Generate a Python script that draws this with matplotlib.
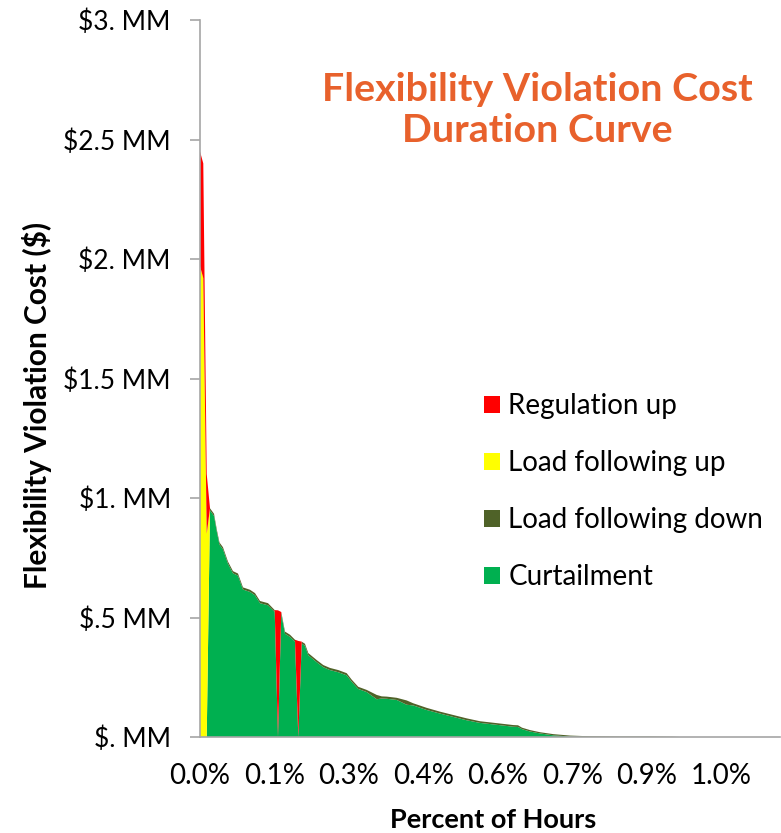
import matplotlib
matplotlib.use("Agg")
import matplotlib.pyplot as plt
from matplotlib.patches import Patch

plt.rcParams['font.family'] = ['Lato', 'DejaVu Sans']

# Percent of hours (x) and costs in $MM for each stacked series
pct = [0.0, 0.0063, 0.0129, 0.0192, 0.0269, 0.0326, 0.0374, 0.0441, 0.0537, 0.0633,
       0.0729, 0.0825, 0.0960, 0.1056, 0.1152, 0.1305, 0.1434, 0.1497, 0.1560, 0.1631,
       0.1727, 0.1823, 0.1887, 0.1952, 0.2015, 0.2079, 0.2240, 0.2367, 0.2495, 0.2655,
       0.2816, 0.2912, 0.3038, 0.3200, 0.3392, 0.3488, 0.3584, 0.3776, 0.3967, 0.4094,
       0.4351, 0.4607, 0.4862, 0.5119, 0.5374, 0.5695, 0.6013, 0.6104, 0.6180, 0.6334,
       0.6526, 0.6781, 0.7102, 0.7486, 0.8061, 0.8637, 0.9060, 0.9213, 1.1132]

curtailment = [0.0, 0.0, 0.0, 0.948, 0.925, 0.855, 0.805, 0.785, 0.725, 0.685,
               0.675, 0.617, 0.607, 0.593, 0.560, 0.551, 0.523, 0.0, 0.515, 0.432,
               0.419, 0.399, 0.0, 0.391, 0.381, 0.342, 0.313, 0.292, 0.280, 0.271,
               0.258, 0.231, 0.201, 0.188, 0.158, 0.161, 0.160, 0.155, 0.135, 0.132,
               0.113, 0.098, 0.084, 0.070, 0.059, 0.051, 0.043, 0.042, 0.033, 0.023,
               0.015, 0.007, 0.002, 0.0, 0.0, 0.0, 0.0, 0.0, 0.0]

load_following_down = [0.0, 0.0, 0.0, 0.009, 0.009, 0.009, 0.009, 0.009, 0.009, 0.009,
                       0.009, 0.009, 0.009, 0.009, 0.009, 0.009, 0.008, 0.0, 0.008, 0.009,
                       0.009, 0.008, 0.0, 0.008, 0.009, 0.009, 0.009, 0.009, 0.009, 0.009,
                       0.009, 0.009, 0.009, 0.009, 0.018, 0.009, 0.009, 0.009, 0.018, 0.009,
                       0.009, 0.008, 0.008, 0.008, 0.007, 0.007, 0.007, 0.007, 0.006, 0.006,
                       0.005, 0.005, 0.004, 0.003, 0.002, 0.002, 0.001, 0.0, 0.0]

load_following_up = [1.97, 1.92, 0.85] + [0.0] * 56

regulation_up = [0.48, 0.48, 0.25, 0.0, 0.0, 0.0, 0.0, 0.0, 0.0, 0.0,
                 0.0, 0.0, 0.0, 0.0, 0.0, 0.0, 0.0, 0.530, 0.0, 0.0,
                 0.0, 0.0, 0.402, 0.0, 0.0, 0.0, 0.0, 0.0, 0.0, 0.0,
                 0.0, 0.0, 0.0, 0.0, 0.0, 0.0, 0.0, 0.0, 0.0, 0.0,
                 0.0, 0.0, 0.0, 0.0, 0.0, 0.0, 0.0, 0.0, 0.0, 0.0,
                 0.0, 0.0, 0.0, 0.0, 0.0, 0.0, 0.0, 0.0, 0.0]

x_ticks = [0.0, 1/7, 2/7, 3/7, 4/7, 5/7, 6/7, 1.0]
y_ticks = [0.0, 0.5, 1.0, 1.5, 2.0, 2.5, 3.0]
y_tick_labels = ["$. MM", "$.5 MM", "$1. MM", "$1.5 MM", "$2. MM", "$2.5 MM", "$3. MM"]

series_names = ["Curtailment", "Load following down", "Load following up", "Regulation up"]
colors = ["#00B050", "#4F6228", "#FFFF00", "#FF0000"]

W, H = 781, 833
fig = plt.figure(figsize=(W / 100, H / 100), dpi=100)
ax = fig.add_axes([200 / W, 1 - 737 / H, 580 / W, 717 / H])

ax.stackplot(pct, curtailment, load_following_down, load_following_up, regulation_up,
             colors=colors, linewidth=0, antialiased=True)

ax.set_xlim(0, 1.1132)
ax.set_ylim(0, 3.0)

for s in ["top", "right"]:
    ax.spines[s].set_visible(False)
for s in ["left", "bottom"]:
    ax.spines[s].set_color("#A6A6A6")
    ax.spines[s].set_linewidth(1.2)

ax.set_yticks(y_ticks)
ax.set_yticklabels(y_tick_labels)
ax.tick_params(axis='y', length=7, width=1.2, color="#A6A6A6", pad=14,
               labelsize=19, labelcolor="#000000")
ax.set_xticks(x_ticks)
ax.set_xticklabels([f"{v:.1f}%" for v in x_ticks])
ax.tick_params(axis='x', length=0, pad=19, labelsize=20, labelcolor="#000000")

ax.set_ylabel("Flexibility Violation Cost ($)", fontsize=21.5, fontweight='bold')
ax.yaxis.set_label_coords(-0.281, 0.463)
ax.yaxis.label.set_va('center')
ax.set_xlabel("Percent of Hours", fontsize=19.5, fontweight='bold')
ax.xaxis.set_label_coords(0.505, -0.1158)
ax.xaxis.label.set_va('center')

fig.text(537 / W, 1 - 110 / H, "Flexibility Violation Cost\nDuration Curve",
         ha='center', va='center', fontsize=28.4, fontweight='bold',
         color="#E8612C", linespacing=1.22)

legend_order = [3, 2, 1, 0]
handles = [Patch(facecolor=colors[i], edgecolor='none') for i in legend_order]
labels = [series_names[i] for i in legend_order]
ax.legend(handles, labels, loc='upper left', bbox_to_anchor=(484 / W, 1 - 393 / H),
          bbox_transform=fig.transFigure, frameon=False, fontsize=20,
          handlelength=0.58, handleheight=0.58, handletextpad=0.29,
          labelspacing=1.12, borderpad=0, borderaxespad=0)

fig.savefig("out.png", dpi=100)
